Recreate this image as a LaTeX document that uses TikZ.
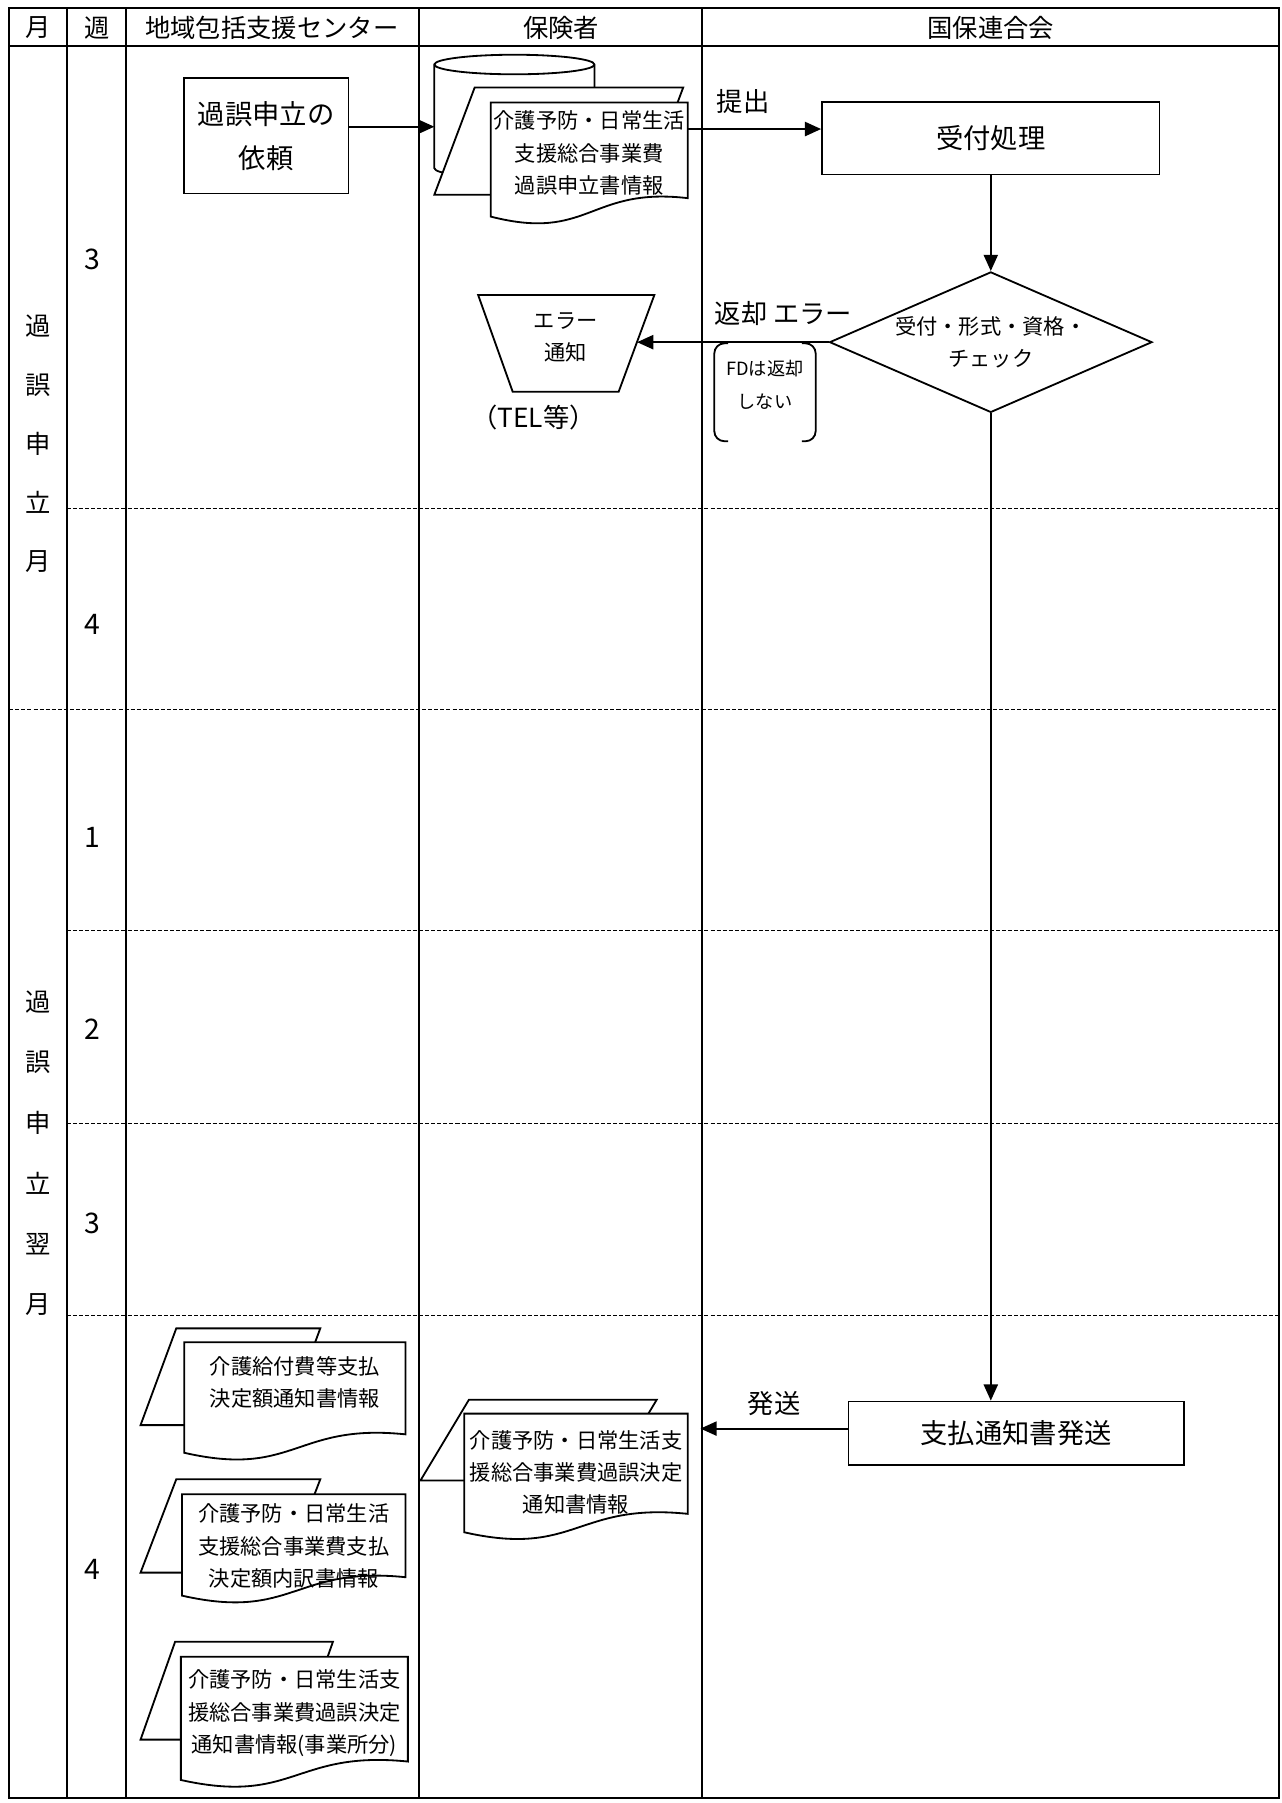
\documentclass[tikz,border=0pt]{standalone}
\usepackage{fontspec}
\setmainfont{Noto Sans CJK JP}
\usetikzlibrary{shapes.geometric,arrows.meta,calc}
\begin{document}
\begin{tikzpicture}
  [x=0.02cm,y=-0.02cm,line width=0.9pt,
   every node/.style={inner sep=0pt,align=center},
   hdr/.style={font=\fontsize{12.5}{15}\selectfont},
   wknum/.style={font=\fontsize{14}{16}\selectfont},
   big/.style={font=\fontsize{13.5}{22}\selectfont},
   lbl/.style={font=\fontsize{13}{16}\selectfont},
   txt/.style={font=\fontsize{10.5}{16}\selectfont},
   tiny/.style={font=\fontsize{9}{16}\selectfont},
   proc/.style={draw,rectangle,fill=white,big},
   arr/.style={-{Triangle[length=8pt,width=7pt]}},
   week/.style={line width=0.5pt,dash pattern=on 2pt off 1pt}]
  \useasboundingbox (0,0) rectangle (1112,1565);

  % week rows
  \foreach \y in {441,808,975,1142}
    \draw[week] (58,\y) -- (1110,\y);
  \draw[week] (8,616) -- (1110,616);

  % lanes
  \draw[line width=1pt] (8,7) rectangle (1110,1561);
  \draw[line width=1pt] (8,40) -- (1110,40);
  \foreach \x in {58,109,364,609}
    \draw[line width=1pt] (\x,7) -- (\x,1561);

  \node[hdr] (hmon) at (33,24) {月};
  \node[hdr] (hweek) at (84,24) {週};
  \node[hdr] (hcen) at (236,24) {地域包括支援センター};
  \node[hdr] (hins) at (487,24) {保険者};
  \node[hdr] (hkok) at (860,24) {国保連合会};

  \foreach \y/\c [count=\i] in {283/過,334/誤,385/申,436/立,487/月}
    \node[hdr] (ma\i) at (33,\y) {\c};
  \foreach \y/\c [count=\i] in {870/過,922/誤,975/申,1027/立,1080/翌,1132/月}
    \node[hdr] (mb\i) at (33,\y) {\c};
  \foreach \y/\n [count=\i] in {225/3,542/4,727/1,893/2,1062/3,1362/4}
    \node[wknum] (wk\i) at (80,\y) {\n};

  % request
  \node[proc,minimum width=2.86cm,minimum height=2cm] (req) at (231,118) {過誤申立の\\依頼};

  % disk behind the first stack
  \filldraw[fill=white] (377,56) -- (377,146)
    arc[start angle=180,end angle=360,x radius=1.39cm,y radius=0.17cm] -- (516,56)
    arc[start angle=0,end angle=180,x radius=1.39cm,y radius=0.17cm] -- cycle;
  \draw (377,56) arc[start angle=180,end angle=360,x radius=1.39cm,y radius=0.17cm];

  % data + document stacks
  \foreach \a/\b/\t/\c/\u/\xa/\ya/\xb/\yb/\ty/\txt [count=\i] in
    {412/593/76/377/169/426/89/597/188/133/{介護予防・日常生活\\支援総合事業費\\過誤申立書情報},
     407/570/1215/365/1285/403/1227/597/1330/1278/{介護予防・日常生活支\\援総合事業費過誤決定\\通知書情報},
     153/278/1153/122/1237/160/1165/352/1261/1200/{介護給付費等支払\\決定額通知書情報},
     153/278/1284/122/1365/158/1297/352/1385/1342/{介護予防・日常生活\\支援総合事業費支払\\決定額内訳書情報},
     152/289/1425/122/1510/157/1438/354/1545/1487/{介護予防・日常生活支\\援総合事業費過誤決定\\通知書情報(事業所分)}}
  {
    \filldraw[fill=white] (\a,\t) -- (\b,\t) -- ($(\b,\t)-(\a,\t)+(\c,\u)$) -- (\c,\u) -- cycle;
    \filldraw[fill=white] (\xa,\ya) -- (\xb,\ya) -- (\xb,\yb-16)
      .. controls (\xa/2+\xb/2,\yb-26) and (\xa/2+\xb/2,\yb+22) .. (\xa,\yb) -- cycle;
    \node[txt] (doc\i) at (\xa/2+\xb/2,\ty) {\txt};
  }

  % error notice
  \filldraw[fill=white] (415,256) -- (568,256) -- (537,340) -- (445,340) -- cycle;
  \node[txt] (errnote) at (491,293) {エラー\\通知};
  \coordinate (errin) at (553,297);
  \node[lbl] (tel) at (463,362) {（TEL等）};

  % FD note
  \draw[rounded corners=5pt] (632,298) -- (620,298) -- (620,383) -- (632,383);
  \draw[rounded corners=5pt] (696,298) -- (708,298) -- (708,383) -- (696,383);
  \node[tiny] (fdnote) at (664,334) {FDは返却\\しない};

  % kokuho side
  \node[proc,minimum width=5.86cm,minimum height=1.26cm] (recv) at (860,120) {受付処理};
  \node[draw,diamond,aspect=2.3,minimum width=5.6cm,minimum height=2.44cm,fill=white,txt] (check) at (860,297) {受付・形式・資格・\\チェック};
  \node[proc,minimum width=5.82cm,minimum height=1.1cm] (pay) at (882,1244) {支払通知書発送};

  \coordinate (diskin) at (377,110);
  \draw[arr] (req.east |- diskin) -- (diskin);
  \coordinate (subout) at (597,112);
  \draw[arr] (subout) -- (subout -| recv.west);
  \node[lbl] (lsub) at (645,88) {提出};
  \draw[arr] (recv.south) -- (check.north);
  \draw[arr] (check.west) -- (errin);
  \node[lbl] (lret) at (680,272) {返却 エラー};
  \draw[arr] (check.south) -- (check.south |- pay.north);
  \coordinate (notein) at (608,1240);
  \draw[arr] (notein -| pay.west) -- (notein);
  \node[lbl] (lsend) at (672,1218) {発送};

\end{tikzpicture}
\end{document}
